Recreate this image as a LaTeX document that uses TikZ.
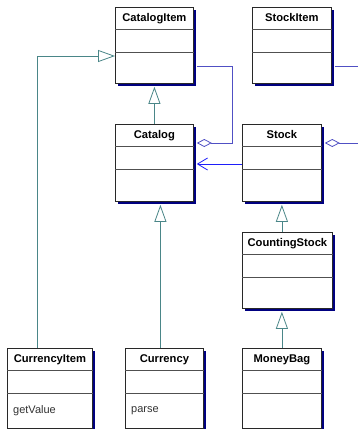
\documentclass[tikz,border=0pt]{standalone}
\usepackage{fontspec}
\setmainfont{Liberation Sans}
\usetikzlibrary{arrows.meta,calc,shadows}
\definecolor{shadowblue}{RGB}{0,0,128}
\definecolor{gencol}{RGB}{74,134,136}
\definecolor{assoccol}{RGB}{80,80,196}
\definecolor{navcol}{RGB}{30,30,250}
\definecolor{bordercol}{RGB}{40,40,40}
\definecolor{divcol}{RGB}{80,80,80}
\tikzset{
  classbox/.style={draw=bordercol, line width=0.8pt, fill=white, inner sep=0pt,
    drop shadow={shadow xshift=3pt, shadow yshift=-3pt, fill=shadowblue, opacity=1}},
  divider/.style={draw=divcol, line width=0.8pt},
  classtitle/.style={font=\fontsize{11.2}{13}\selectfont\bfseries, inner sep=0pt, anchor=base},
  optext/.style={font=\fontsize{11}{13}\selectfont, text=black!80, inner sep=0pt, anchor=west},
  gen/.style={draw=gencol, line width=0.8pt, -{Triangle[open, length=17pt, width=12pt, fill=white]}},
  assoc/.style={draw=assoccol, line width=0.8pt},
  aggr/.style={assoc, {Diamond[open, length=15pt, width=8pt, fill=white]}-},
  nav/.style={draw=navcol, line width=0.8pt, -{Straight Barb[length=10pt, width=12pt]}},
}
\newcommand\umlclass[6]{%
  \node[classbox, minimum width=#4pt, minimum height=#5pt, anchor=north west] (#1) at (#2,#3) {};
  \draw[divider] ($(#1.north west)+(0,22)$) -- ($(#1.north east)+(0,22)$);
  \draw[divider] ($(#1.north west)+(0,45)$) -- ($(#1.north east)+(0,45)$);
  \node[classtitle] (#1-t) at ($(#1.north)+(0,14.5)$) {#6};
}
\begin{document}
\begin{tikzpicture}[x=1pt,y=-1pt]
\useasboundingbox (0,0) rectangle (358,429);
\umlclass{citem}{115}{7}{78}{76}{CatalogItem}
\umlclass{sitem}{252}{7}{79}{76}{StockItem}
\umlclass{catalog}{115}{124}{78}{77}{Catalog}
\umlclass{stock}{242}{124}{79}{77}{Stock}
\umlclass{cstock}{242}{232}{90}{76}{CountingStock}
\umlclass{curitem}{7}{348}{85}{80}{CurrencyItem}
\umlclass{currency}{125}{348}{78}{80}{Currency}
\umlclass{moneybag}{242}{348}{79}{80}{MoneyBag}
\node[optext] (curitem-op) at ($(curitem.north west)+(6,63)$) {getValue};
\node[optext] (currency-op) at ($(currency.north west)+(6,63)$) {parse};
% generalizations
\draw[gen] (catalog.north) -- ($(citem.south)+(0,3)$);
\draw[gen] ($(currency.north)+(-4,0)$) -- ($(catalog.south)+(6,3)$);
\draw[gen] ($(cstock.north)+(-5.5,0)$) -- ($(stock.south)+(0,3)$);
\draw[gen] (moneybag.north) -- ($(cstock.south)+(-5.5,3)$);
\draw[gen] ($(curitem.north)+(-12.5,0)$) |- ($(citem.north west)+(0,49)$);
% associations
\draw[aggr] ($(catalog.north east)+(3,19)$) -- ($(catalog.north east)+(39,19)$) |- ($(citem.north east)+(3,59)$);
\coordinate (off1) at (360,66);
\coordinate (off2) at (360,143);
\draw[assoc] ($(sitem.north east)+(3,59)$) -- (off1);
\draw[aggr] ($(stock.north east)+(3,19)$) -- (off2);
\draw[nav] ($(stock.north west)+(0,40)$) -- ($(catalog.north east)+(3,40)$);
\end{tikzpicture}
\end{document}
